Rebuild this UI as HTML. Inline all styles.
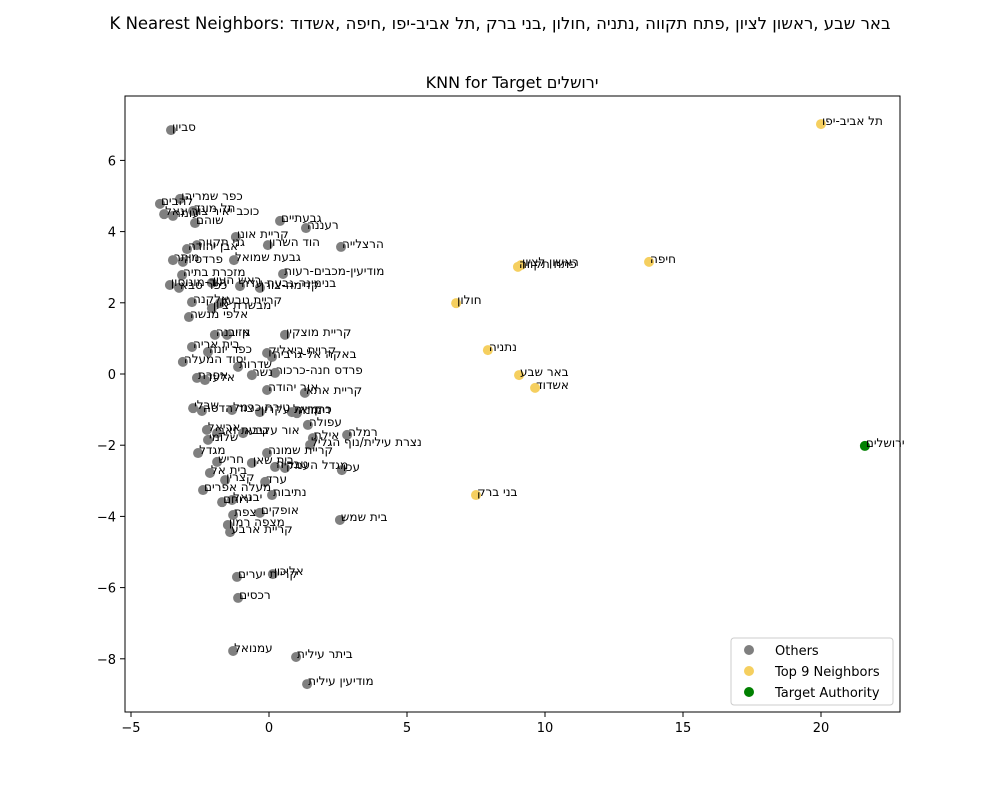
<!DOCTYPE html>
<html><head><meta charset="utf-8">
<style>
body{margin:0;background:#fff;}
svg text{font-family:"DejaVu Sans","Liberation Sans","Noto Sans CJK JP",sans-serif;}
</style></head>
<body>
<svg id="chart" width="1000" height="800" viewBox="0 0 1000 800" xmlns="http://www.w3.org/2000/svg" style="display:block;">
<rect width="1000" height="800" fill="#fff"/>
<text x="500" y="29" text-anchor="middle" font-size="16.5">K Nearest Neighbors: &#x200E;אשדוד&#x200E;, &#x200E;חיפה&#x200E;, &#x200E;תל אביב-יפו&#x200E;, &#x200E;בני ברק&#x200E;, &#x200E;חולון&#x200E;, &#x200E;נתניה&#x200E;, &#x200E;פתח תקווה&#x200E;, &#x200E;ראשון לציון&#x200E;, &#x200E;באר שבע&#x200E;</text>
<text x="512" y="88" text-anchor="middle" font-size="16">KNN for Target ירושלים&#x200E;</text>
<g id="marks"></g>
<g id="labels"></g>
<rect x="125" y="96" width="775" height="616" fill="none" stroke="#000" stroke-width="1"/>
<g id="xticks"></g>
<g id="yticks"></g>
<g>
<rect x="731" y="638" width="162" height="67" rx="3" fill="#fff" stroke="#ccc"/>
<circle cx="749" cy="650" r="5" fill="#7f7f7f"/>
<text x="775" y="655" font-size="13">Others</text>
<circle cx="749" cy="671" r="5" fill="#f5cf5f"/>
<text x="775" y="676" font-size="13">Top 9 Neighbors</text>
<circle cx="749" cy="692" r="5" fill="#008000"/>
<text x="775" y="697" font-size="13">Target Authority</text>
</g>
</svg>
<script>
const othersNames = ["סביון","להבים","כפר שמריהו","כוכב יאיר צור יגאל","עומר","תל מונד","שוהם","גבעתיים","רעננה","קריית אונו","הוד השרון","הרצלייה","גני תקווה","אבן יהודה","מיתר","פרדסיה","גבעת שמואל","מודיעין-מכבים-רעות","מזכרת בתיה","יהוד-מונוסון","כפר סבא","ראש העין","בנימינה-גבעת עדה","קדימה-צורן","אלקנה","מבשרת ציון","קריית טבעון","אלפי מנשה","גן יבנה","אזור","קריית מוצקין","בית אריה","כפר יונה","יסוד המעלה","קריית ביאליק","באקה אל-גרביה","שדרות","נשר","פרדס חנה-כרכור","אפרת","אלעד","אור יהודה","קריית אתא","שבלי","צור הדסה","טירת כרמל","קריית עקרון","כרמיאל","דימונה","עפולה","אריאל","גבעת זאב","אור עקיבא","רמלה","אילת","שלומי","מגדל","חריש","בית אל","בית שאן","קריית שמונה","טבריה","מגדל העמק","עכו","נצרת עילית/נוף הגליל","מעלה אפרים","קצרין","ערד","נתיבות","ירוחם","יבנאל","צפת","אופקים","מצפה רמון","קריית ארבע","בית שמש","קריית יערים","אליכין","רכסים","עמנואל","ביתר עילית","מודיעין עילית"];
const othersX = [-3.55,-3.95,-3.22,-3.80,-3.48,-2.75,-2.68,0.40,1.34,-1.20,-0.04,2.61,-2.61,-2.97,-3.48,-3.12,-1.27,0.51,-3.15,-3.59,-3.26,-2.07,-1.05,-0.33,-2.79,-2.07,-1.78,-2.90,-1.96,-1.52,0.58,-2.79,-2.21,-3.12,-0.07,0.11,-1.12,-0.62,0.22,-2.61,-2.32,-0.07,1.30,-2.75,-2.43,-1.34,-0.33,0.83,1.01,1.41,-2.25,-1.88,-0.94,2.83,1.59,-2.21,-2.57,-1.88,-2.14,-0.62,-0.07,0.22,0.58,2.64,1.49,-2.39,-1.59,-0.14,0.11,-1.70,-1.34,-1.30,-0.33,-1.49,-1.41,2.57,-1.16,0.14,-1.12,-1.30,0.98,1.38];
const othersY = [6.85,4.78,4.92,4.49,4.44,4.58,4.24,4.30,4.10,3.85,3.62,3.57,3.62,3.51,3.20,3.15,3.20,2.81,2.78,2.50,2.42,2.56,2.47,2.42,2.02,1.85,1.99,1.60,1.10,1.10,1.10,0.76,0.62,0.34,0.59,0.48,0.20,-0.03,0.03,-0.11,-0.17,-0.45,-0.53,-0.96,-1.04,-1.01,-1.07,-1.07,-1.10,-1.43,-1.57,-1.66,-1.66,-1.71,-1.80,-1.85,-2.22,-2.47,-2.78,-2.50,-2.22,-2.61,-2.64,-2.70,-1.99,-3.26,-2.98,-3.03,-3.40,-3.60,-3.54,-3.96,-3.90,-4.24,-4.44,-4.10,-5.70,-5.62,-6.29,-7.78,-7.95,-8.71];
const neighborNames = ["תל אביב-יפו","חיפה","ראשון לציון","פתח תקווה","חולון","נתניה","באר שבע","אשדוד","בני ברק"];
const neighborX = [20.0,13.77,9.13,9.02,6.78,7.93,9.06,9.64,7.50];
const neighborY = [7.02,3.15,3.06,3.01,1.99,0.67,-0.03,-0.39,-3.40];
const targetNames = ["ירושלים"];
const targetX = [21.59];
const targetY = [-2.02];
const xTicks = [-5,0,5,10,15,20];
const yTicks = [-8,-6,-4,-2,0,2,4,6];

const NS="http://www.w3.org/2000/svg";
function sx(v){return 269+(v)*27.6;}
function sy(v){return 374-(v)*35.6;}
const marks=document.getElementById('marks'), labels=document.getElementById('labels');
function drawSeries(names,xs,ys,color,kind){
  for(let i=0;i<xs.length;i++){
    const c=document.createElementNS(NS,'circle');
    c.setAttribute('cx',sx(xs[i]));c.setAttribute('cy',sy(ys[i]));c.setAttribute('r',5);
    c.setAttribute('fill',color);
    
    
    marks.appendChild(c);
    const t=document.createElementNS(NS,'text');
    t.setAttribute('x',sx(xs[i])+1);t.setAttribute('y',sy(ys[i])+1);
    t.setAttribute('font-size','12');
    t.textContent=names[i];
    
    
    labels.appendChild(t);
  }
}
drawSeries(othersNames,othersX,othersY,'#7f7f7f','other');
drawSeries(neighborNames,neighborX,neighborY,'#f5cf5f','neighbor');
drawSeries(targetNames,targetX,targetY,'#008000','target');
const xg=document.getElementById('xticks');
xTicks.forEach(v=>{
  const l=document.createElementNS(NS,'line');
  l.setAttribute('x1',sx(v));l.setAttribute('x2',sx(v));l.setAttribute('y1',712);l.setAttribute('y2',717);l.setAttribute('stroke','#000');
  
  
  xg.appendChild(l);
  const t=document.createElementNS(NS,'text');
  t.setAttribute('x',sx(v));t.setAttribute('y',732);t.setAttribute('text-anchor','middle');t.setAttribute('font-size','13');
  t.textContent=(v<0?'\u2212'+Math.abs(v):v);
  
  
  xg.appendChild(t);
});
const yg=document.getElementById('yticks');
yTicks.forEach(v=>{
  const l=document.createElementNS(NS,'line');
  l.setAttribute('x1',120);l.setAttribute('x2',125);l.setAttribute('y1',sy(v));l.setAttribute('y2',sy(v));l.setAttribute('stroke','#000');
  
  
  yg.appendChild(l);
  const t=document.createElementNS(NS,'text');
  t.setAttribute('x',116);t.setAttribute('y',sy(v)+5);t.setAttribute('text-anchor','end');t.setAttribute('font-size','13');
  t.textContent=(v<0?'\u2212'+Math.abs(v):v);
  
  
  yg.appendChild(t);
});
</script>
</body></html>
